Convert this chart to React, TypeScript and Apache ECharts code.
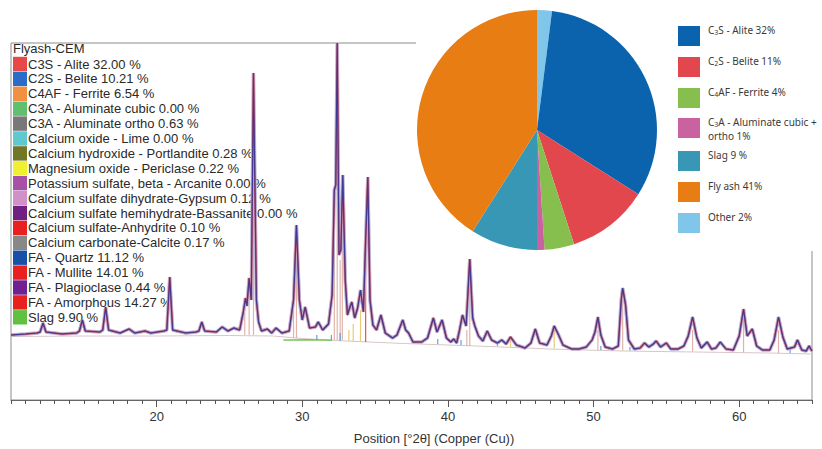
import React, { useEffect, useRef } from "react";
import * as echarts from "echarts";

// ---------- Left legend (phase quantification) ----------
const legendTitle = "Flyash-CEM";
const phaseNames = [
  "C3S - Alite",
  "C2S - Belite",
  "C4AF - Ferrite",
  "C3A - Aluminate cubic",
  "C3A - Aluminate ortho",
  "Calcium oxide - Lime",
  "Calcium hydroxide - Portlandite",
  "Magnesium oxide - Periclase",
  "Potassium sulfate, beta - Arcanite",
  "Calcium sulfate dihydrate-Gypsum",
  "Calcium sulfate hemihydrate-Bassanite",
  "Calcium sulfate-Anhydrite",
  "Calcium carbonate-Calcite",
  "FA - Quartz",
  "FA - Mullite",
  "FA - Plagioclase",
  "FA - Amorphous",
  "Slag",
];
const phasePercents = [32.0, 10.21, 6.54, 0.0, 0.63, 0.0, 0.28, 0.22, 0.0, 0.12, 0.0, 0.1, 0.17, 11.12, 14.01, 0.44, 14.27, 9.9];
const phaseColors = [
  "#e84848", "#2a6cc8", "#f09040", "#60c070", "#787878", "#60c8d0",
  "#707828", "#f0f030", "#a850a8", "#d090c8", "#702080", "#e82020",
  "#888888", "#1850a8", "#e82020", "#702090", "#e82020", "#60c040",
];

// ---------- Pie (clockwise from 12 o'clock) ----------
const pieCategories = ["Other", "C3S - Alite", "C2S - Belite", "C4AF - Ferrite", "C3A - Aluminate cubic + ortho", "Slag", "Fly ash"];
const pieValues = [2, 32, 11, 4, 1, 9, 41];
const pieColors = ["#7fc6ea", "#0b63ae", "#e2474e", "#86bf4e", "#c9629e", "#3897b5", "#e87d14"];
const pieLegendOrder = ["C3S - Alite", "C2S - Belite", "C4AF - Ferrite", "C3A - Aluminate cubic + ortho", "Slag", "Fly ash", "Other"];
const pieLegendLabels = ["C3S - Alite 32%", "C2S - Belite 11%", "C4AF - Ferrite 4%", "C3A - Aluminate cubic +\northo 1%", "Slag 9 %", "Fly ash 41%", "Other 2%"];

// ---------- XRD pattern: [2θ, counts] ----------
const xrdProfile: number[][] = [
  [10.0, 650], [11.0, 660], [11.8, 670], [12.0, 680], [12.2, 770], [12.4, 680], [13.5, 660], [14.5, 670], [14.7, 690],
  [14.9, 800], [15.1, 690], [16.1, 680], [16.3, 700], [16.5, 930], [16.7, 700], [17.5, 670], [18.1, 710], [18.5, 670],
  [19.2, 690], [19.6, 670], [20.5, 690], [20.7, 700], [20.9, 1230], [21.1, 700], [22.0, 670], [22.7, 680], [22.9, 690],
  [23.1, 780], [23.3, 690], [24.1, 680], [24.5, 730], [24.9, 690], [25.3, 720], [25.7, 700], [25.95, 880], [26.1, 1020],
  [26.2, 940], [26.35, 1220], [26.5, 1000], [26.65, 3270], [26.85, 1000], [27.0, 780], [27.2, 690], [27.6, 710],
  [27.9, 670], [28.2, 720], [28.6, 670], [29.1, 690], [29.4, 1000], [29.6, 1750], [29.8, 1000], [30.0, 800],
  [30.2, 930], [30.5, 720], [30.9, 730], [31.1, 780], [31.4, 700], [31.8, 760], [32.05, 1050], [32.2, 2100],
  [32.3, 2150], [32.4, 3570], [32.52, 1450], [32.65, 1500], [32.78, 2250], [32.95, 1200], [33.1, 850], [33.25, 920],
  [33.4, 980], [33.6, 820], [33.8, 920], [34.0, 1100], [34.2, 880], [34.35, 1600], [34.5, 2230], [34.65, 1000],
  [34.85, 750], [35.1, 700], [35.4, 850], [35.7, 670], [36.2, 620], [36.5, 650], [36.9, 800], [37.1, 700],
  [37.3, 670], [37.6, 580], [38.2, 580], [38.6, 620], [39.0, 820], [39.25, 680], [39.6, 800], [39.9, 620],
  [40.2, 580], [40.4, 610], [40.6, 570], [40.8, 700], [41.0, 850], [41.25, 740], [41.5, 1410], [41.7, 820],
  [41.85, 740], [42.1, 640], [42.4, 590], [42.7, 690], [43.0, 600], [43.4, 570], [43.7, 600], [44.0, 560],
  [44.3, 630], [44.7, 550], [45.3, 520], [45.7, 570], [46.0, 710], [46.3, 570], [46.8, 550], [47.1, 640],
  [47.3, 740], [47.6, 650], [47.9, 550], [48.5, 510], [49.0, 510], [49.5, 530], [49.9, 600], [50.1, 680],
  [50.3, 830], [50.5, 650], [50.8, 530], [51.3, 510], [51.7, 540], [51.9, 1000], [52.0, 1120], [52.2, 950],
  [52.4, 600], [52.8, 510], [53.2, 520], [53.5, 570], [53.8, 530], [54.1, 560], [54.3, 590], [54.6, 530],
  [55.0, 570], [55.3, 510], [55.8, 510], [56.2, 540], [56.5, 640], [56.8, 830], [57.1, 620], [57.4, 520],
  [57.8, 580], [58.1, 510], [58.4, 520], [58.7, 580], [59.1, 510], [59.6, 500], [60.0, 640], [60.3, 910],
  [60.55, 640], [60.9, 710], [61.2, 540], [61.6, 500], [62.1, 500], [62.4, 600], [62.7, 830], [63.0, 630],
  [63.3, 510], [63.8, 530], [64.0, 600], [64.3, 500], [64.6, 490], [64.8, 540], [65.0, 490],
];
const xrdBackground: number[][] = [
  [10, 635], [15, 640], [20, 640], [25, 645], [28, 640], [30, 615], [33, 590], [37, 565], [42, 540], [47, 510],
  [52, 490], [57, 480], [62, 470], [65, 460],
];
const slagHump: number[][] = [[28.7, 600], [30.5, 602], [32.0, 598]];
// sticks: [2θ, base, top]
const mainSticks: number[][] = [
  [26.05, 650, 1000], [26.35, 650, 1150], [26.65, 650, 2800], [29.4, 620, 1300], [29.6, 620, 1500], [32.2, 600, 1900],
  [32.4, 600, 3200], [32.6, 600, 1400], [32.75, 600, 2000], [41.3, 540, 700], [41.5, 540, 1200], [50.3, 500, 700],
  [52.0, 495, 1000], [56.8, 485, 700], [60.3, 475, 800], [62.7, 470, 700],
];
const redSticks: number[][] = [[34.35, 580, 1380]];
const yellowSticks: number[][] = [[33.2, 590, 700], [33.5, 590, 760], [34.0, 585, 900], [44.3, 530, 620], [47.3, 515, 700]];
const blueSticks: number[][] = [
  [31.0, 600, 650], [32.0, 595, 650], [32.6, 590, 670], [39.3, 560, 610], [40.9, 550, 600], [43.4, 540, 580],
  [50.5, 500, 540], [52.5, 495, 530], [63.5, 470, 510],
];
const majorTicks = [20, 30, 40, 50, 60];
const xAxisTitle = "Position [°2θ] (Copper (Cu))";

const sub = (s: string) => s.replace(/^C(\d)/, "C{s|$1}");

function stickSeries(data: number[][], color: string, width: number) {
  return {
    type: "custom",
    data,
    encode: { x: 0, y: [1, 2] },
    z: 3,
    silent: true,
    renderItem: (params: any, api: any) => {
      const p1 = api.coord([api.value(0), api.value(1)]);
      const p2 = api.coord([api.value(0), api.value(2)]);
      return {
        type: "line",
        shape: { x1: p1[0], y1: p1[1], x2: p2[0], y2: p2[1] },
        style: { stroke: color, lineWidth: width, opacity: 0.85 },
      };
    },
  };
}

export default function App() {
  const ref = useRef<HTMLDivElement>(null);
  useEffect(() => {
    if (!ref.current) return;
    const chart = echarts.init(ref.current, undefined, { renderer: "svg" });
    const font = "Liberation Sans, Arial, sans-serif";
    const graphics: any[] = [];

    // left legend
    graphics.push({
      type: "text", x: 13, y: 48, z: 1, silent: true,
      style: { text: legendTitle, fill: "#2a2a2a", font: `13px ${font}`, textVerticalAlign: "middle", verticalAlign: "middle" },
    });
    phaseNames.forEach((n, i) => {
      const cy = 64 + i * 14.9;
      graphics.push({
        type: "rect", z: 1, silent: true,
        shape: { x: 13, y: cy - 7.2, width: 14, height: 14.4 },
        style: { fill: phaseColors[i] },
      });
      graphics.push({
        type: "text", x: 28, y: cy, z: 1, silent: true,
        style: {
          text: `${n} ${phasePercents[i].toFixed(2)} %`, fill: "#2a2a2a", font: `13px ${font}`,
          textVerticalAlign: "middle", verticalAlign: "middle",
        },
      });
    });

    // x-axis title
    graphics.push({
      type: "text", x: 434, y: 438, z: 1, silent: true,
      style: { text: xAxisTitle, fill: "#333", font: `13px ${font}`, textAlign: "center", align: "center", textVerticalAlign: "middle", verticalAlign: "middle" },
    });

    // white area of the pie picture
    graphics.push({
      type: "rect", z: 50, silent: true,
      shape: { x: 416, y: 0, width: 410, height: 251 },
      style: { fill: "#ffffff" },
    });

    // pie legend
    const swTops = [26, 57, 88, 118, 151, 182, 213];
    pieLegendOrder.forEach((name, i) => {
      const k = pieCategories.indexOf(name);
      graphics.push({
        type: "rect", z: 70, silent: true,
        shape: { x: 678, y: swTops[i], width: 22, height: 20 },
        style: { fill: pieColors[k] },
      });
      pieLegendLabels[i].split("\n").forEach((line, j) => {
        graphics.push({
          type: "text", x: 708, y: swTops[i] + 4 + j * 13.5, z: 70, silent: true,
          style: {
            text: sub(line), fill: "#3a3a3a", font: `10px Noto Sans, sans-serif`, lineHeight: 11,
            textVerticalAlign: "middle", verticalAlign: "middle",
            rich: {
              s: { fontSize: 7, fontFamily: "Noto Sans", fill: "#3a3a3a", verticalAlign: "bottom", lineHeight: 9 },
            },
          },
        });
      });
    });

    const option: any = {
      animation: false,
      backgroundColor: "#ffffff",
      grid: { left: 11, right: 10, top: 43, bottom: 49, show: true, borderColor: "#8c8c8c", borderWidth: 1, containLabel: false },
      xAxis: [
        {
          type: "value", min: 10, max: 65, interval: 1,
          axisLine: { show: true, onZero: false, lineStyle: { color: "#666", width: 1 } },
          axisTick: { show: true, length: 4, lineStyle: { color: "#555" } },
          axisLabel: { customValues: majorTicks, color: "#333", fontSize: 13, fontFamily: font, margin: 10 },
          splitLine: { show: false },
        },
        {
          type: "value", min: 10, max: 65, position: "bottom",
          axisLine: { show: false },
          axisTick: { show: true, length: 7, customValues: majorTicks, lineStyle: { color: "#555" } },
          axisLabel: { show: false },
          splitLine: { show: false },
        },
      ],
      yAxis: { type: "value", min: 0, max: 3570, show: false },
      graphic: { elements: graphics },
      series: [
        { type: "line", data: xrdBackground, showSymbol: false, silent: true, z: 2, lineStyle: { color: "#d9c6c6", width: 1 } },
        { type: "line", data: slagHump, showSymbol: false, silent: true, z: 2, lineStyle: { color: "#7cc85a", width: 1.5 } },
        stickSeries(mainSticks, "#d9a89c", 1.2),
        stickSeries(redSticks, "#e83030", 1.2),
        stickSeries(yellowSticks, "#e8c060", 1.2),
        stickSeries(blueSticks, "#4a90d8", 1.2),
        { type: "line", data: xrdProfile, showSymbol: false, silent: true, z: 4, lineStyle: { color: "#b8aed0", width: 3.5 } },
        { type: "line", data: xrdProfile, showSymbol: false, silent: true, z: 5, lineStyle: { color: "#e23a3a", width: 1.5 } },
        { type: "line", data: xrdProfile, showSymbol: false, silent: true, z: 6, lineStyle: { color: "#3c3a96", width: 1.1 } },
        {
          type: "pie", center: [537, 130], radius: 120, startAngle: 90, clockwise: true, z: 60, silent: true,
          label: { show: false }, labelLine: { show: false },
          itemStyle: { borderWidth: 0 },
          data: pieCategories.map((n, i) => ({ name: n, value: pieValues[i], itemStyle: { color: pieColors[i] } })),
        },
      ],
    };
    chart.setOption(option);
    return () => chart.dispose();
  }, []);
  return <div ref={ref} style={{ position: "fixed", left: 0, top: 0, width: 822, height: 449 }} />;
}
